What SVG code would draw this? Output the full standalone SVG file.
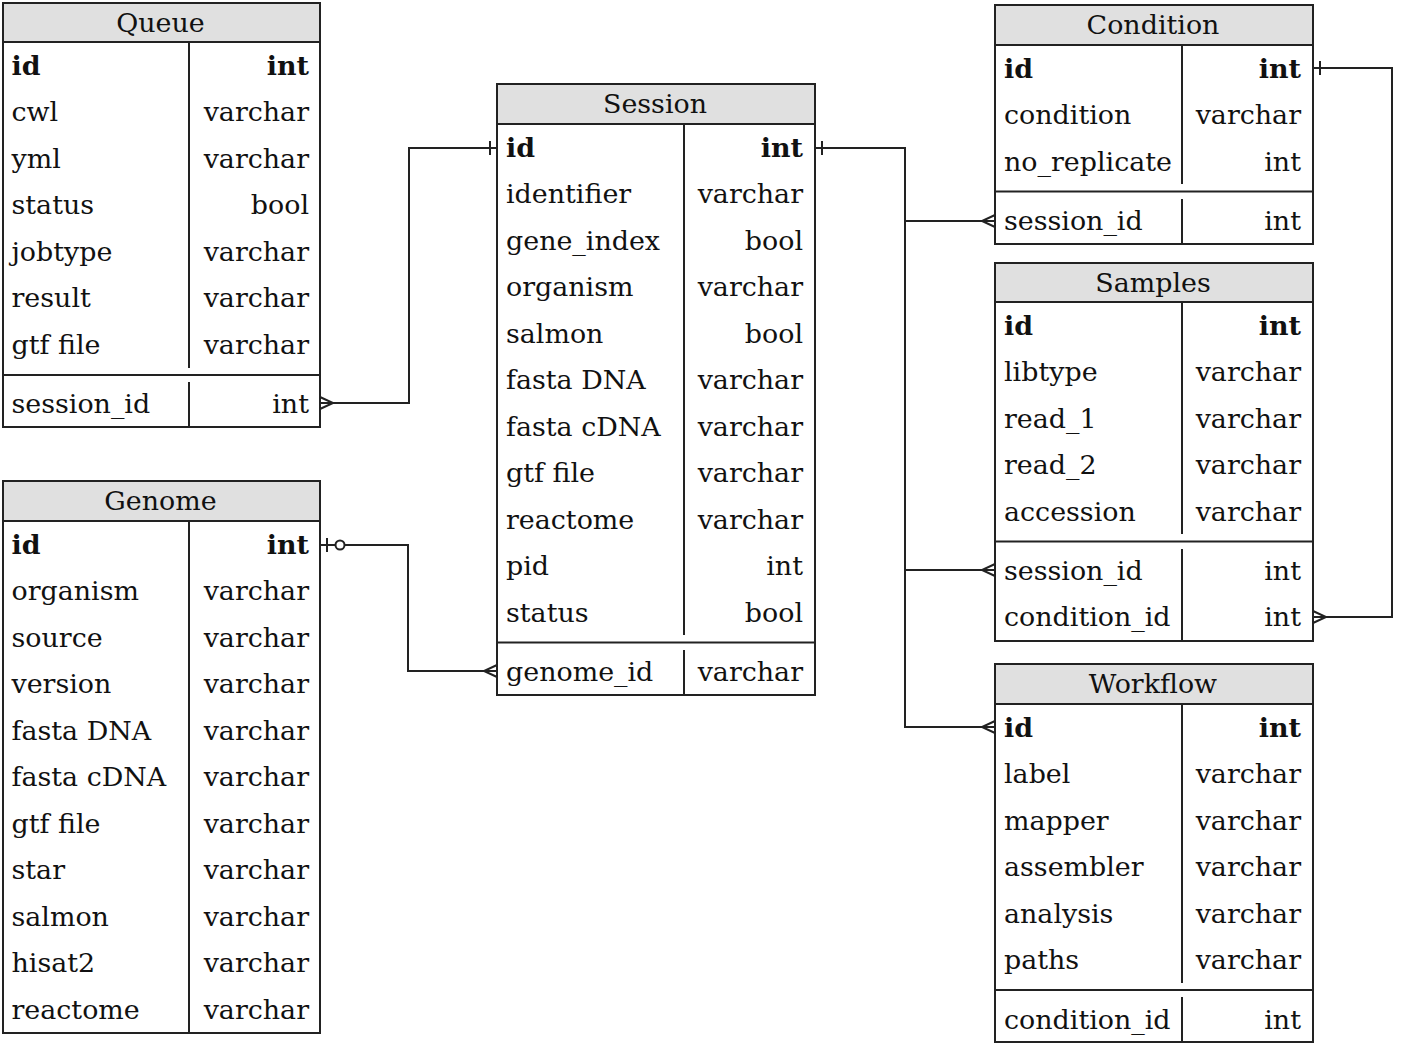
<svg xmlns="http://www.w3.org/2000/svg" width="1408" height="1043" viewBox="0 0 1408 1043">
<style>
text{font-family:"DejaVu Serif","Liberation Serif",serif;font-size:26.9px;fill:#111}
.h{text-anchor:middle}
.r{text-anchor:end}
.b{font-weight:bold}
.box{fill:#fff;stroke:#222;stroke-width:2}
.hd{fill:#e0e0e0;stroke:#222;stroke-width:2}
.ln{fill:none;stroke:#222;stroke-width:2}
.cn{fill:none;stroke:#222;stroke-width:2}
</style>
<rect width="1408" height="1043" fill="#fff"/>

<g id="Queue">
<rect class="box" x="3" y="3" width="317" height="424"/>
<rect class="hd" x="3" y="3" width="317" height="39"/>
<text class="h" x="160.5" y="31.5">Queue</text>
<line class="ln" x1="189" y1="42" x2="189" y2="368"/>
<line class="ln" x1="3" y1="375" x2="320" y2="375"/>
<line class="ln" x1="189" y1="382" x2="189" y2="427"/>
<text class="b" x="11.5" y="74.5">id</text><text class="r b" x="309" y="74.5">int</text>
<text x="11.5" y="121">cwl</text><text class="r" x="309" y="121">varchar</text>
<text x="11.5" y="167.5">yml</text><text class="r" x="309" y="167.5">varchar</text>
<text x="11.5" y="214">status</text><text class="r" x="309" y="214">bool</text>
<text x="11.5" y="260.5">jobtype</text><text class="r" x="309" y="260.5">varchar</text>
<text x="11.5" y="307">result</text><text class="r" x="309" y="307">varchar</text>
<text x="11.5" y="353.5">gtf file</text><text class="r" x="309" y="353.5">varchar</text>
<text x="11.5" y="412.5">session_id</text><text class="r" x="309" y="412.5">int</text>
</g>

<g id="Genome">
<rect class="box" x="3" y="481" width="317" height="552"/>
<rect class="hd" x="3" y="481" width="317" height="40"/>
<text class="h" x="160.5" y="510">Genome</text>
<line class="ln" x1="189" y1="521" x2="189" y2="1033"/>
<text class="b" x="11.5" y="553.5">id</text><text class="r b" x="309" y="553.5">int</text>
<text x="11.5" y="600">organism</text><text class="r" x="309" y="600">varchar</text>
<text x="11.5" y="646.5">source</text><text class="r" x="309" y="646.5">varchar</text>
<text x="11.5" y="693">version</text><text class="r" x="309" y="693">varchar</text>
<text x="11.5" y="739.5">fasta DNA</text><text class="r" x="309" y="739.5">varchar</text>
<text x="11.5" y="786">fasta cDNA</text><text class="r" x="309" y="786">varchar</text>
<text x="11.5" y="832.5">gtf file</text><text class="r" x="309" y="832.5">varchar</text>
<text x="11.5" y="879">star</text><text class="r" x="309" y="879">varchar</text>
<text x="11.5" y="925.5">salmon</text><text class="r" x="309" y="925.5">varchar</text>
<text x="11.5" y="972">hisat2</text><text class="r" x="309" y="972">varchar</text>
<text x="11.5" y="1018.5">reactome</text><text class="r" x="309" y="1018.5">varchar</text>
</g>

<g id="Session">
<rect class="box" x="497" y="84" width="318" height="611"/>
<rect class="hd" x="497" y="84" width="318" height="40"/>
<text class="h" x="655" y="113">Session</text>
<line class="ln" x1="684" y1="124" x2="684" y2="635"/>
<line class="ln" x1="497" y1="642.5" x2="815" y2="642.5"/>
<line class="ln" x1="684" y1="650" x2="684" y2="695"/>
<text class="b" x="506" y="156.5">id</text><text class="r b" x="803" y="156.5">int</text>
<text x="506" y="203">identifier</text><text class="r" x="803" y="203">varchar</text>
<text x="506" y="249.5">gene_index</text><text class="r" x="803" y="249.5">bool</text>
<text x="506" y="296">organism</text><text class="r" x="803" y="296">varchar</text>
<text x="506" y="342.5">salmon</text><text class="r" x="803" y="342.5">bool</text>
<text x="506" y="389">fasta DNA</text><text class="r" x="803" y="389">varchar</text>
<text x="506" y="435.5">fasta cDNA</text><text class="r" x="803" y="435.5">varchar</text>
<text x="506" y="482">gtf file</text><text class="r" x="803" y="482">varchar</text>
<text x="506" y="528.5">reactome</text><text class="r" x="803" y="528.5">varchar</text>
<text x="506" y="575">pid</text><text class="r" x="803" y="575">int</text>
<text x="506" y="621.5">status</text><text class="r" x="803" y="621.5">bool</text>
<text x="506" y="680.5">genome_id</text><text class="r" x="803" y="680.5">varchar</text>
</g>

<g id="Condition">
<rect class="box" x="995" y="5" width="318" height="239"/>
<rect class="hd" x="995" y="5" width="318" height="40"/>
<text class="h" x="1153" y="34">Condition</text>
<line class="ln" x1="1182" y1="45" x2="1182" y2="184"/>
<line class="ln" x1="995" y1="191.5" x2="1313" y2="191.5"/>
<line class="ln" x1="1182" y1="199" x2="1182" y2="244"/>
<text class="b" x="1004" y="77.5">id</text><text class="r b" x="1301" y="77.5">int</text>
<text x="1004" y="124">condition</text><text class="r" x="1301" y="124">varchar</text>
<text x="1004" y="170.5">no_replicate</text><text class="r" x="1301" y="170.5">int</text>
<text x="1004" y="229.5">session_id</text><text class="r" x="1301" y="229.5">int</text>
</g>

<g id="Samples">
<rect class="box" x="995" y="263" width="318" height="378"/>
<rect class="hd" x="995" y="263" width="318" height="39"/>
<text class="h" x="1153" y="292">Samples</text>
<line class="ln" x1="1182" y1="302" x2="1182" y2="534"/>
<line class="ln" x1="995" y1="541.5" x2="1313" y2="541.5"/>
<line class="ln" x1="1182" y1="549" x2="1182" y2="641"/>
<text class="b" x="1004" y="334.5">id</text><text class="r b" x="1301" y="334.5">int</text>
<text x="1004" y="381">libtype</text><text class="r" x="1301" y="381">varchar</text>
<text x="1004" y="427.5">read_1</text><text class="r" x="1301" y="427.5">varchar</text>
<text x="1004" y="474">read_2</text><text class="r" x="1301" y="474">varchar</text>
<text x="1004" y="520.5">accession</text><text class="r" x="1301" y="520.5">varchar</text>
<text x="1004" y="579.5">session_id</text><text class="r" x="1301" y="579.5">int</text>
<text x="1004" y="626">condition_id</text><text class="r" x="1301" y="626">int</text>
</g>

<g id="Workflow">
<rect class="box" x="995" y="664" width="318" height="378"/>
<rect class="hd" x="995" y="664" width="318" height="40"/>
<text class="h" x="1153" y="693">Workflow</text>
<line class="ln" x1="1182" y1="704" x2="1182" y2="983"/>
<line class="ln" x1="995" y1="990" x2="1313" y2="990"/>
<line class="ln" x1="1182" y1="997" x2="1182" y2="1042"/>
<text class="b" x="1004" y="736.5">id</text><text class="r b" x="1301" y="736.5">int</text>
<text x="1004" y="783">label</text><text class="r" x="1301" y="783">varchar</text>
<text x="1004" y="829.5">mapper</text><text class="r" x="1301" y="829.5">varchar</text>
<text x="1004" y="876">assembler</text><text class="r" x="1301" y="876">varchar</text>
<text x="1004" y="922.5">analysis</text><text class="r" x="1301" y="922.5">varchar</text>
<text x="1004" y="969">paths</text><text class="r" x="1301" y="969">varchar</text>
<text x="1004" y="1028.5">condition_id</text><text class="r" x="1301" y="1028.5">int</text>
</g>

<g id="connectors">
<!-- Queue.session_id -> Session.id -->
<path class="cn" d="M320,403 H409 V148 H497"/>
<path class="cn" d="M320,397 L333,403 L320,409"/>
<path class="cn" d="M490,141 V155"/>
<!-- Genome.id -> Session.genome_id -->
<path class="cn" d="M320,545 H335.5 M344.5,545 H408 V671 H497"/>
<path class="cn" d="M327,538 V552"/>
<circle class="cn" cx="340" cy="545" r="4.5"/>
<path class="cn" d="M497,665 L484,671 L497,677"/>
<!-- Session.id -> Condition, Samples, Workflow -->
<path class="cn" d="M815,148 H905 V727 H995"/>
<path class="cn" d="M822,141 V155"/>
<path class="cn" d="M905,221 H995"/>
<path class="cn" d="M905,570 H995"/>
<path class="cn" d="M995,215 L982,221 L995,227"/>
<path class="cn" d="M995,564 L982,570 L995,576"/>
<path class="cn" d="M995,721 L982,727 L995,733"/>
<!-- Condition.id -> Samples.condition_id -->
<path class="cn" d="M1313,68 H1392 V617 H1313"/>
<path class="cn" d="M1320,61 V75"/>
<path class="cn" d="M1313,611 L1326,617 L1313,623"/>
</g>
</svg>
